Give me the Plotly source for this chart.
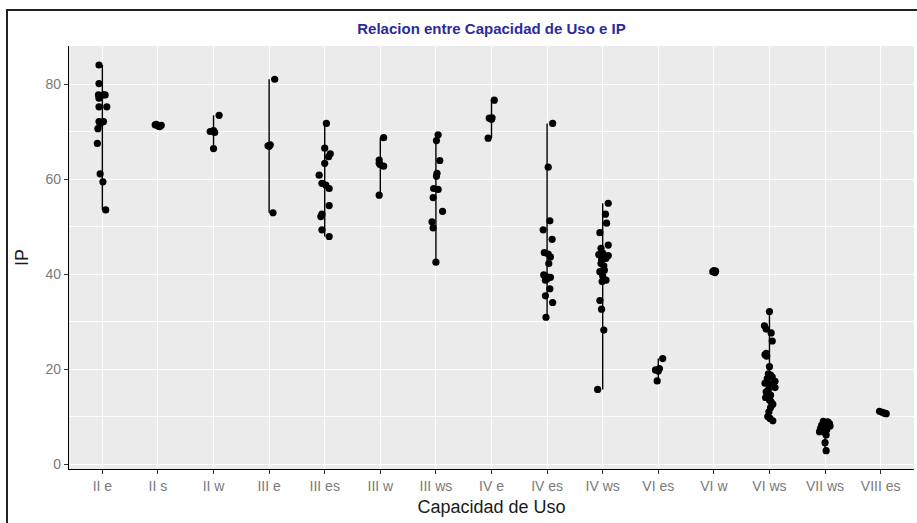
import plotly.graph_objects as go

categories = ["II e", "II s", "II w", "III e", "III es", "III w", "III ws", "IV e",
              "IV es", "IV ws", "VI es", "VI w", "VI ws", "VII ws", "VIII es"]

ip_values = [
    [84.0, 80.1, 77.7, 77.7, 77.7, 77.0, 75.2, 75.2, 72.1, 72.1, 71.6, 70.6, 67.5, 61.1, 59.4, 53.5],
    [71.5, 71.2, 71.0, 71.3, 71.4],
    [70.0, 70.2, 69.8, 73.4, 66.4],
    [67.0, 67.2, 66.9, 81.0, 52.9],
    [71.7, 66.5, 65.3, 64.7, 63.3, 60.8, 59.1, 58.7, 58.0, 54.4, 52.6, 52.1, 49.3, 47.9],
    [68.7, 64.0, 63.3, 63.0, 62.7, 56.6],
    [69.3, 68.1, 63.9, 61.2, 60.6, 58.0, 57.8, 56.1, 53.2, 51.0, 49.7, 42.5],
    [76.6, 72.8, 72.9, 72.6, 68.6],
    [71.7, 62.5, 51.2, 49.3, 47.3, 44.5, 44.2, 43.6, 42.2, 39.8, 39.5, 39.3, 39.0, 38.7, 36.9, 35.4, 34.0, 30.9],
    [54.9, 52.6, 50.7, 48.7, 46.1, 45.4, 44.4, 44.1, 43.9, 43.3, 43.0, 42.2, 41.7, 40.8, 40.5, 39.6, 38.7, 38.4, 34.4, 32.6, 28.2, 15.7],
    [22.2, 20.1, 19.8, 19.6, 17.5],
    [40.5, 40.7, 40.3, 40.6],
    [32.1, 29.1, 28.4, 27.6, 25.9, 23.3, 23.0, 22.7, 20.5, 19.0, 18.7, 18.3, 18.0, 17.4, 17.0, 16.8, 16.1, 15.6, 15.2, 14.5, 14.0, 13.5, 13.1, 12.6, 11.9, 11.0, 10.0, 9.6, 9.1],
    [9.0, 8.9, 8.7, 8.5, 8.2, 8.0, 7.9, 7.5, 7.2, 6.8, 6.6, 6.1, 4.5, 2.8],
    [11.1, 10.9, 10.7, 10.6],
]

# horizontal jitter of each point (category units)
jitter = [
    [-0.06, -0.06, -0.07, 0.02, 0.05, -0.06, -0.06, 0.08, -0.06, 0.02, -0.04, -0.08, -0.09, -0.04, 0.01, 0.06],
    [-0.03, 0.0, 0.03, 0.06, -0.05],
    [-0.06, 0.0, 0.02, 0.1, 0.0],
    [-0.02, 0.02, 0.0, 0.1, 0.07],
    [0.03, 0.0, 0.1, 0.07, 0.0, -0.1, -0.05, 0.02, 0.08, 0.08, -0.05, -0.07, -0.05, 0.08],
    [0.06, -0.02, -0.02, 0.0, 0.06, -0.02],
    [0.04, 0.01, 0.07, 0.02, 0.01, -0.04, 0.04, -0.05, 0.12, -0.07, -0.05, 0.0],
    [0.05, -0.04, 0.01, 0.0, -0.06],
    [0.1, 0.02, 0.05, -0.07, 0.09, -0.05, 0.02, 0.06, 0.03, -0.06, -0.02, 0.06, 0.0, -0.03, 0.05, -0.03, 0.1, -0.02],
    [0.1, 0.05, 0.07, -0.05, 0.1, -0.03, 0.0, -0.07, 0.1, 0.06, -0.02, -0.03, 0.02, 0.03, -0.05, 0.0, 0.06, -0.01, -0.05, -0.02, 0.02, -0.09],
    [0.08, 0.02, -0.05, 0.0, -0.02],
    [-0.02, 0.0, 0.02, 0.03],
    [0.0, -0.09, -0.06, 0.03, 0.05, -0.06, -0.08, -0.05, 0.0, -0.02, 0.02, 0.05, -0.04, 0.1, -0.08, 0.0, 0.1, -0.02, -0.06, 0.02, -0.07, 0.0, 0.03, 0.06, 0.02, -0.01, -0.03, 0.01, 0.06],
    [-0.03, 0.05, 0.0, 0.08, -0.06, 0.09, -0.02, -0.08, 0.03, -0.1, 0.0, 0.02, 0.0, 0.02],
    [-0.02, 0.03, 0.07, 0.1],
]

y_ticks = [0, 20, 40, 60, 80]

fig = go.Figure()

# vertical range lines (min to max per category)
lx, ly = [], []
for i, vals in enumerate(ip_values):
    lx += [i, i, None]
    ly += [min(vals), max(vals), None]
fig.add_trace(go.Scatter(x=lx, y=ly, mode="lines",
                         line=dict(color="black", width=1.4),
                         hoverinfo="skip", showlegend=False))

px, py = [], []
for i, (vals, jit) in enumerate(zip(ip_values, jitter)):
    for v, j in zip(vals, jit):
        px.append(i + j)
        py.append(v)
fig.add_trace(go.Scatter(x=px, y=py, mode="markers",
                         marker=dict(color="black", size=7.2),
                         showlegend=False))

fig.update_layout(
    width=917, height=523,
    margin=dict(l=69, r=3, t=46, b=54),
    paper_bgcolor="white",
    plot_bgcolor="#EBEBEB",
    font=dict(family="Liberation Sans, Arial, sans-serif"),
    title=dict(text="<b>Relacion entre Capacidad de Uso e IP</b>",
               x=0.5, xref="paper", xanchor="center",
               y=1 - 29 / 523, yref="container", yanchor="middle",
               font=dict(size=15, color="#2b2b9e")),
    xaxis=dict(
        range=[-0.6, 14.6], tickmode="array",
        tickvals=list(range(len(categories))), ticktext=categories,
        showgrid=True, gridcolor="white", gridwidth=1.2,
        zeroline=False, showline=True, linecolor="black", linewidth=1.3,
        ticks="outside", ticklen=4, tickcolor="#333333", tickwidth=1,
        tickfont=dict(size=14, color="#7a7a7a"),
        title=dict(text="Capacidad de Uso", font=dict(size=18, color="#1a1a1a"), standoff=7),
    ),
    yaxis=dict(
        range=[-1.05, 88], tickmode="array", tickvals=y_ticks,
        ticktext=[str(t) for t in y_ticks],
        showgrid=True, gridcolor="white", gridwidth=1.2,
        minor=dict(tickmode="array", tickvals=[10, 30, 50, 70], showgrid=True,
                   gridcolor="white", gridwidth=0.6, ticks=""),
        zeroline=False, showline=True, linecolor="black", linewidth=1.3,
        ticks="outside", ticklen=4, tickcolor="#333333", tickwidth=1,
        tickfont=dict(size=14, color="#7a7a7a"),
        title=dict(text="IP", font=dict(size=18, color="#1a1a1a"), standoff=12),
    ),
    shapes=[dict(type="rect", xref="paper", yref="paper",
                 x0=(7 - 69) / 845, x1=1.05, y0=-0.2, y1=(469 - 10) / 423,
                 line=dict(color="#222222", width=2), fillcolor="rgba(0,0,0,0)",
                 layer="above")],
)

fig.write_html("out.html")
